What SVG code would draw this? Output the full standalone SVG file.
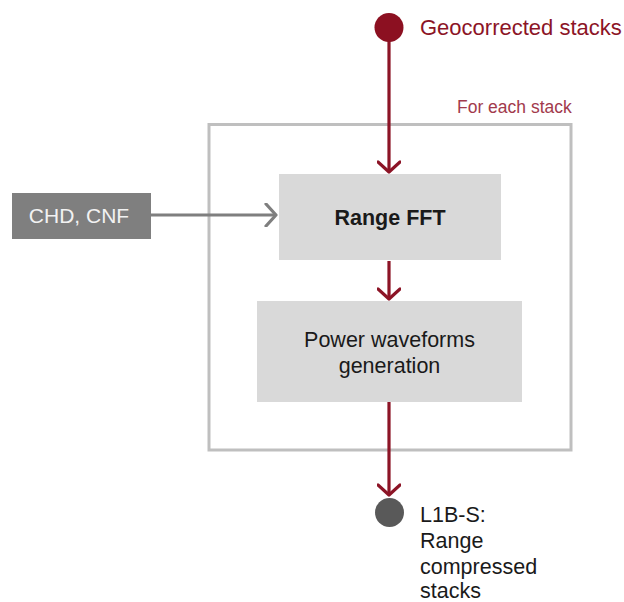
<svg xmlns="http://www.w3.org/2000/svg" width="624" height="602" viewBox="0 0 624 602">
<defs>
<marker id="ar" markerUnits="userSpaceOnUse" markerWidth="24" markerHeight="24" refX="12" refY="12" orient="auto" viewBox="0 0 24 24">
<path d="M2,1 L12,12 L2,23" fill="none" stroke="#8C1426" stroke-width="3.2" stroke-linecap="round" stroke-linejoin="round"/>
</marker>
<marker id="ag" markerUnits="userSpaceOnUse" markerWidth="24" markerHeight="24" refX="12" refY="12" orient="auto" viewBox="0 0 24 24">
<path d="M2,1 L12,12 L2,23" fill="none" stroke="#7F7F7F" stroke-width="3.2" stroke-linecap="round" stroke-linejoin="round"/>
</marker>
</defs>
<style>
text{font-family:"Liberation Sans",Arial,sans-serif}
.box{fill:#D9D9D9}
.lbl{font-size:21.5px;fill:#1A1A1A;text-anchor:middle}
.red{stroke:#8C1426;stroke-width:3.2;fill:none}
.gry{stroke:#7F7F7F;stroke-width:3.2;fill:none}
.out{font-size:21.5px;fill:#1A1A1A}
</style>
<rect x="209" y="124.5" width="362" height="325.5" fill="none" stroke="#BFBFBF" stroke-width="3"/>
<text x="457" y="113" font-size="17.5" fill="#A23A4C">For each stack</text>
<g id="connectors">
<line class="red" x1="389" y1="40" x2="389" y2="172" marker-end="url(#ar)"/>
<line class="red" x1="389" y1="261" x2="389" y2="299" marker-end="url(#ar)"/>
<line class="red" x1="389" y1="402" x2="389" y2="495" marker-end="url(#ar)"/>
<line class="gry" x1="151" y1="215" x2="276" y2="215" marker-end="url(#ag)"/>
</g>
<g id="geocorrected">
<circle cx="389" cy="27.5" r="14.5" fill="#8C1021"/>
<text x="420" y="35" font-size="22" fill="#8C1426">Geocorrected stacks</text>
</g>
<g id="chd">
<rect x="12" y="193" width="139" height="46" fill="#7F7F7F"/>
<text x="79" y="223" font-size="21" fill="#F2F2F2" text-anchor="middle">CHD, CNF</text>
</g>
<g id="rangefft">
<rect class="box" x="279" y="174" width="222" height="86"/>
<text class="lbl" x="390" y="225" font-weight="bold">Range FFT</text>
</g>
<g id="power">
<rect class="box" x="257" y="301" width="265" height="101"/>
<text class="lbl" x="389.5" y="347">Power waveforms</text>
<text class="lbl" x="389.5" y="373">generation</text>
</g>
<g id="l1bs">
<circle cx="389.5" cy="512.5" r="14.5" fill="#595959"/>
<text class="out" x="420" y="522">L1B-S:</text>
<text class="out" x="420" y="548">Range</text>
<text class="out" x="420" y="574">compressed</text>
<text class="out" x="420" y="598">stacks</text>
</g>
</svg>
